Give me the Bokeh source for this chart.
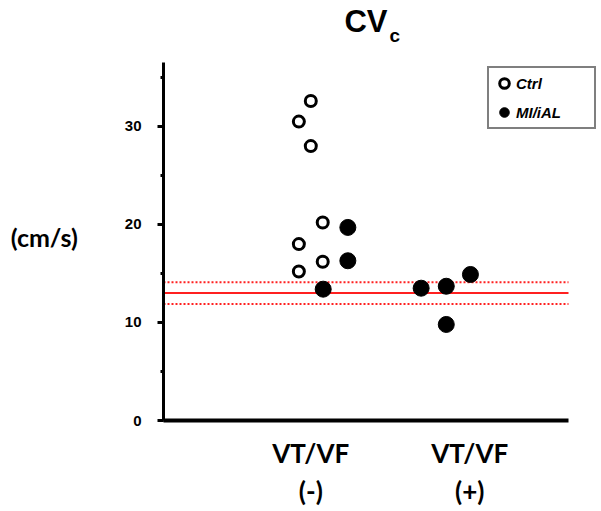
from bokeh.plotting import figure
from bokeh.layouts import column
from bokeh.models import (Range1d, FixedTicker, SingleIntervalTicker, Label,
                          Legend, LegendItem)
from bokeh.embed import file_html
from bokeh.resources import INLINE

# ---- data ----
categories = ["VT/VF\n(-)", "VT/VF\n(+)"]
category_pos = [1, 2]

ctrl_neg_offset = [0.0, -0.075, 0.0, 0.075, -0.075, 0.075, -0.075]
ctrl_neg_values = [32.6, 30.5, 28.0, 20.2, 18.0, 16.2, 15.2]

mi_neg_offset = [0.233, 0.233, 0.078]
mi_neg_values = [19.7, 16.3, 13.4]

mi_pos_offset = [-0.306, -0.148, 0.004, -0.148]
mi_pos_values = [13.5, 13.7, 14.9, 9.8]

ref_mean = 13.0
ref_upper = 14.1
ref_lower = 11.9

y_axis_max = 36.5

W = 601
LEFT = 163
TITLE_H = 52
MAIN_H = 511 - TITLE_H

# ---- title strip (CV with subscript c); its frame is aligned with the main frame ----
t = figure(width=W, height=TITLE_H, output_backend="svg", toolbar_location=None,
           x_range=Range1d(LEFT, W), y_range=Range1d(0, TITLE_H),
           min_border=0, min_border_left=LEFT, x_axis_type=None, y_axis_type=None)
t.outline_line_color = None
t.background_fill_color = "white"
t.border_fill_color = "white"
t.xgrid.visible = False
t.ygrid.visible = False
t.add_layout(Label(x=365.5, y=31, text="CV", text_font="Liberation Sans",
                   text_font_style="bold", text_font_size="31px", text_align="center",
                   text_baseline="alphabetic", text_color="black"))
t.add_layout(Label(x=389, y=17.5, text="c", text_font="Liberation Sans",
                   text_font_style="bold", text_font_size="19px", text_align="left",
                   text_baseline="alphabetic", text_color="black"))

# ---- main figure ----
x_axis_start, x_axis_end = 0.0736, 2.6208
p = figure(width=W, height=MAIN_H, output_backend="svg", toolbar_location=None,
           x_range=Range1d(x_axis_start, 2.8283), y_range=Range1d(0, 37.55),
           min_border_left=LEFT, min_border_right=0, min_border_top=0,
           min_border_bottom=91)
p.background_fill_color = "white"
p.border_fill_color = "white"
p.outline_line_color = None
p.xgrid.visible = False
p.ygrid.visible = False

# reference lines (mean and +/- band), spanning the x axis
p.segment(x0=[x_axis_start], x1=[x_axis_end], y0=[ref_mean], y1=[ref_mean],
          line_color="#ff2020", line_width=2)
p.segment(x0=[x_axis_start] * 2, x1=[x_axis_end] * 2, y0=[ref_upper, ref_lower],
          y1=[ref_upper, ref_lower], line_color="#ff2020", line_width=2, line_dash="2 2")

x_ctrl_neg = [category_pos[0] + o for o in ctrl_neg_offset]
x_mi_neg = [category_pos[0] + o for o in mi_neg_offset]
x_mi_pos = [category_pos[1] + o for o in mi_pos_offset]

r_ctrl = p.scatter(x_ctrl_neg, ctrl_neg_values, marker="circle", size=11,
                   fill_color="white", line_color="black", line_width=3)
r_mi = p.scatter(x_mi_neg + x_mi_pos, mi_neg_values + mi_pos_values, marker="circle",
                 size=16, fill_color="black", line_color="black", line_width=1)

# axes
yax = p.yaxis[0]
yax.bounds = (0, y_axis_max)
yax.ticker = SingleIntervalTicker(interval=10, num_minor_ticks=2)
yax.axis_line_width = 3
yax.axis_line_color = "black"
yax.major_tick_line_width = 3
yax.minor_tick_line_width = 3
yax.major_tick_out = 6
yax.major_tick_in = 0
yax.minor_tick_out = 3
yax.minor_tick_in = 0
yax.major_label_text_font = "Liberation Sans"
yax.major_label_text_font_style = "bold"
yax.major_label_text_font_size = "15px"
yax.major_label_text_color = "black"
yax.major_label_standoff = 16
yax.axis_label = "(cm/s)"
yax.axis_label_orientation = "horizontal"
yax.axis_label_text_font = "Lato"
yax.axis_label_text_font_style = "bold"
yax.axis_label_text_font_size = "25px"
yax.axis_label_text_color = "black"
yax.axis_label_standoff = 44

xax = p.xaxis[0]
xax.bounds = (x_axis_start, x_axis_end)
xax.ticker = FixedTicker(ticks=category_pos)
xax.major_label_overrides = {pos: lab for pos, lab in zip(category_pos, categories)}
xax.axis_line_width = 4
xax.axis_line_color = "black"
xax.major_tick_out = 0
xax.major_tick_in = 0
xax.minor_tick_out = 0
xax.minor_tick_in = 0
xax.major_label_text_font = "Lato"
xax.major_label_text_font_style = "bold"
xax.major_label_text_font_size = "26px"
xax.major_label_text_color = "black"
xax.major_label_standoff = 16

legend = Legend(items=[LegendItem(label="Ctrl", renderers=[r_ctrl]),
                       LegendItem(label="MI/iAL", renderers=[r_mi])],
                location=(324, 291), margin=0, padding=3, spacing=5,
                glyph_width=24, glyph_height=24, label_height=24, label_width=75,
                label_standoff=0, border_line_color="black", border_line_width=2,
                label_text_font="Liberation Sans", label_text_font_style="bold italic",
                label_text_font_size="15px", label_text_color="black",
                background_fill_alpha=1)
p.add_layout(legend)

layout = column(t, p, spacing=0)
open("out.html", "w").write(file_html(layout, INLINE))
